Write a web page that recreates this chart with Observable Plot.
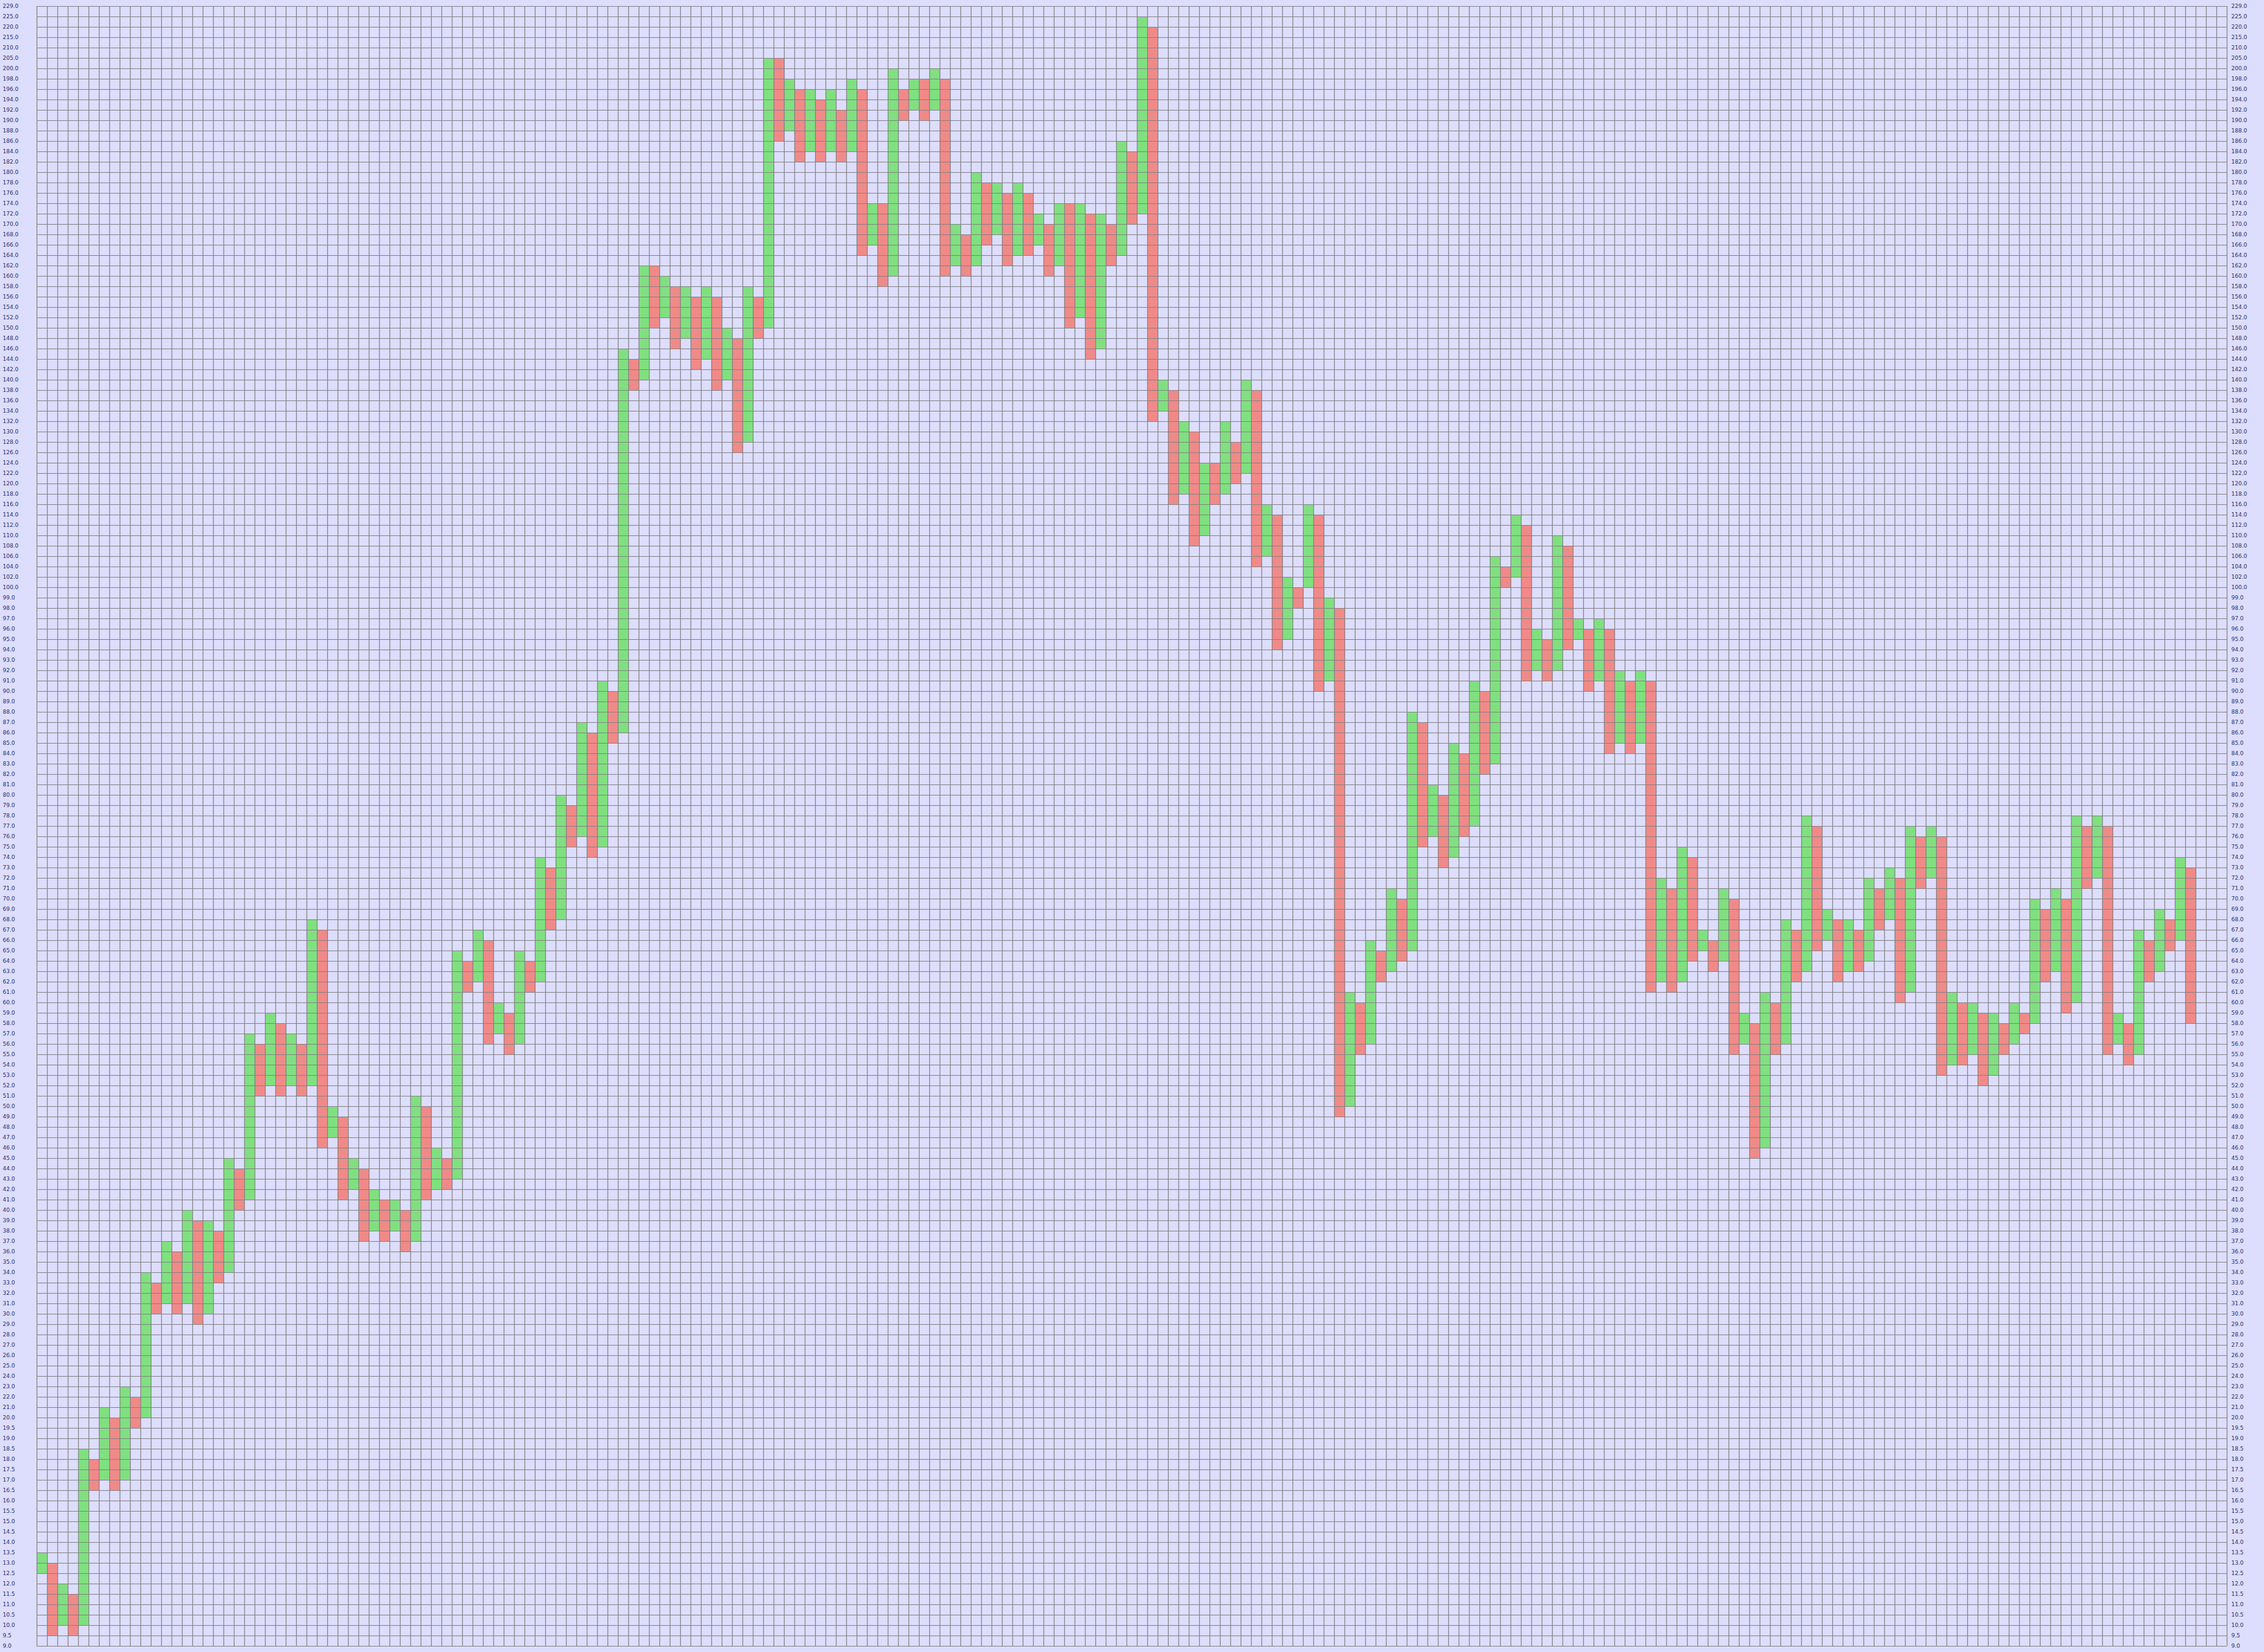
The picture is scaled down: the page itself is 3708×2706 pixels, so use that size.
<!DOCTYPE html>
<html>
<head>
<meta charset="utf-8">
<script src="https://cdn.jsdelivr.net/npm/d3@7"></script>
<script src="https://cdn.jsdelivr.net/npm/@observablehq/plot@0.6"></script>
<style>
  html, body { margin: 0; padding: 0; background: #ddddfd; }
  #chart svg { display: block; }
</style>
</head>
<body>
<div id="chart"></div>
<script>
// Price levels (box boundaries) shown on the vertical axes, bottom to top
const priceLevels = [
  9.0, 9.5, 10.0, 10.5, 11.0, 11.5, 12.0, 12.5, 13.0, 13.5, 14.0, 14.5, 15.0, 15.5,
  16.0, 16.5, 17.0, 17.5, 18.0, 18.5, 19.0, 19.5, 20.0,
  21, 22, 23, 24, 25, 26, 27, 28, 29, 30, 31, 32, 33, 34, 35, 36, 37, 38, 39, 40,
  41, 42, 43, 44, 45, 46, 47, 48, 49, 50, 51, 52, 53, 54, 55, 56, 57, 58, 59, 60,
  61, 62, 63, 64, 65, 66, 67, 68, 69, 70, 71, 72, 73, 74, 75, 76, 77, 78, 79, 80,
  81, 82, 83, 84, 85, 86, 87, 88, 89, 90, 91, 92, 93, 94, 95, 96, 97, 98, 99,
  100, 102, 104, 106, 108, 110, 112, 114, 116, 118, 120, 122, 124, 126, 128, 130,
  132, 134, 136, 138, 140, 142, 144, 146, 148, 150, 152, 154, 156, 158, 160, 162,
  164, 166, 168, 170, 172, 174, 176, 178, 180, 182, 184, 186, 188, 190, 192, 194,
  196, 198, 200, 205, 210, 215, 220, 225, 229
];

// Column direction: X = rising (green), O = falling (red)
const columnType = [
  "X","O","X","O","X","O","X","O","X","O","X","O","X","O","X","O","X","O","X","O",
  "X","O","X","O","X","O","X","O","X","O","X","O","X","O","X","O","X","O","X","O",
  "X","O","X","O","X","O","X","O","X","O","X","O","X","O","X","O","X","O","X","O",
  "X","O","X","O","X","O","X","O","X","O","X","O","X","O","X","O","X","O","X","O",
  "X","O","X","O","X","O","X","O","X","O","X","O","X","O","X","O","X","O","X","O",
  "X","O","X","O","X","O","X","O","X","O","X","O","X","O","X","O","X","O","X","O",
  "X","O","X","O","X","O","X","O","X","O","X","O","X","O","X","O","X","O","X","O",
  "X","O","X","O","X","O","X","O","X","O","X","O","X","O","X","O","X","O","X","O",
  "X","O","X","O","X","O","X","O","X","O","X","O","X","O","X","O","X","O","X","O",
  "X","O","X","O","X","O","X","O","X","O","X","O","X","O","X","O","X","O","X","O",
  "X","O","X","O","X","O","X","O"
];

// Lowest price level of each column
const columnLow = [
  12.5, 9.5, 10.0, 9.5, 10.0, 16.5, 17.0, 16.5, 17.0, 19.5,
  20.0, 30, 31, 30, 31, 29, 30, 33, 34, 40,
  41, 51, 52, 51, 52, 51, 52, 46, 47, 41,
  42, 37, 38, 37, 38, 36, 37, 41, 42, 42,
  43, 61, 62, 56, 57, 55, 56, 61, 62, 67,
  68, 75, 76, 74, 75, 85, 86, 138, 140, 150,
  152, 146, 148, 142, 144, 138, 140, 126, 128, 148,
  150, 186, 188, 182, 184, 182, 184, 182, 184, 164,
  166, 158, 160, 190, 192, 190, 192, 160, 162, 160,
  162, 166, 168, 162, 164, 164, 166, 160, 162, 150,
  152, 144, 146, 162, 164, 170, 172, 132, 134, 116,
  118, 108, 110, 116, 118, 120, 122, 104, 106, 94,
  95, 98, 100, 90, 91, 49, 50, 55, 56, 62,
  63, 64, 65, 75, 76, 73, 74, 76, 77, 82,
  83, 100, 102, 91, 92, 91, 92, 94, 95, 90,
  91, 84, 85, 84, 85, 61, 62, 61, 62, 64,
  65, 63, 64, 55, 56, 45, 46, 55, 56, 62,
  63, 65, 66, 62, 63, 63, 64, 67, 68, 60,
  61, 71, 72, 53, 54, 54, 55, 52, 53, 55,
  56, 57, 58, 62, 63, 59, 60, 71, 72, 55,
  56, 54, 55, 62, 63, 65, 66, 58
];

// Highest price level of each column
const columnHigh = [
  13.5, 13.0, 12.0, 11.5, 18.5, 18.0, 21, 20.0, 23, 22,
  34, 33, 37, 36, 40, 39, 39, 38, 45, 44,
  57, 56, 59, 58, 57, 56, 68, 67, 50, 49,
  45, 44, 42, 41, 41, 40, 51, 50, 46, 45,
  65, 64, 67, 66, 60, 59, 65, 64, 74, 73,
  80, 79, 87, 86, 91, 90, 146, 144, 162, 162,
  160, 158, 158, 156, 158, 156, 150, 148, 158, 156,
  205, 205, 198, 196, 196, 194, 196, 192, 198, 196,
  174, 174, 200, 196, 198, 198, 200, 198, 170, 168,
  180, 178, 178, 176, 178, 176, 172, 170, 174, 174,
  174, 172, 172, 170, 186, 184, 225, 220, 140, 138,
  132, 130, 124, 124, 132, 128, 140, 138, 116, 114,
  102, 100, 116, 114, 99, 98, 61, 60, 66, 65,
  71, 70, 88, 87, 81, 80, 85, 84, 91, 90,
  106, 104, 114, 112, 96, 95, 110, 108, 97, 96,
  97, 96, 92, 91, 92, 91, 72, 71, 75, 74,
  67, 66, 71, 70, 59, 58, 61, 60, 68, 67,
  78, 77, 69, 68, 68, 67, 72, 71, 73, 72,
  77, 76, 77, 76, 61, 60, 60, 59, 59, 58,
  60, 59, 70, 69, 71, 70, 78, 77, 78, 77,
  59, 58, 67, 66, 69, 68, 74, 73
];

const nGridColumns = 211;
const upColor = "#80e080";
const downColor = "#f08a88";
const gridColor = "#808080";
const labelColor = "#1f2f72";

const levelIndex = new Map(priceLevels.map((p, i) => [p, i]));
const columns = columnLow.map((lo, i) => ({
  col: i,
  type: columnType[i],
  lo: levelIndex.get(lo),
  hi: levelIndex.get(columnHigh[i])
}));

const levelTicks = d3.range(priceLevels.length);
const fmt = i => priceLevels[i].toFixed(1);

const chart = Plot.plot({
  width: 3708,
  height: 2706,
  marginLeft: 60,
  marginRight: 61,
  marginTop: 10,
  marginBottom: 10,
  style: {
    background: "#ddddfd",
    fontFamily: "'DejaVu Sans', sans-serif",
    fontSize: "9px",
    color: labelColor
  },
  x: { domain: [0, nGridColumns], axis: null },
  y: { domain: [0, priceLevels.length - 1], axis: null },
  color: { domain: ["X", "O"], range: [upColor, downColor] },
  marks: [
    Plot.rect(columns, {
      x1: "col",
      x2: d => d.col + 1,
      y1: "lo",
      y2: "hi",
      fill: "type"
    }),
    Plot.ruleX(d3.range(nGridColumns + 1), { stroke: gridColor, strokeWidth: 1.2 }),
    Plot.ruleY(levelTicks, { stroke: gridColor, strokeWidth: 1.2 }),
    Plot.axisY({
      anchor: "left",
      ticks: levelTicks,
      tickSize: 0,
      tickPadding: 56,
      textAnchor: "start",
      tickFormat: fmt,
      fill: labelColor,
      label: null
    }),
    Plot.axisY({
      anchor: "right",
      ticks: levelTicks,
      tickSize: 0,
      tickPadding: 7,
      textAnchor: "start",
      tickFormat: fmt,
      fill: labelColor,
      label: null
    })
  ]
});

document.getElementById("chart").appendChild(chart);
</script>
</body>
</html>
